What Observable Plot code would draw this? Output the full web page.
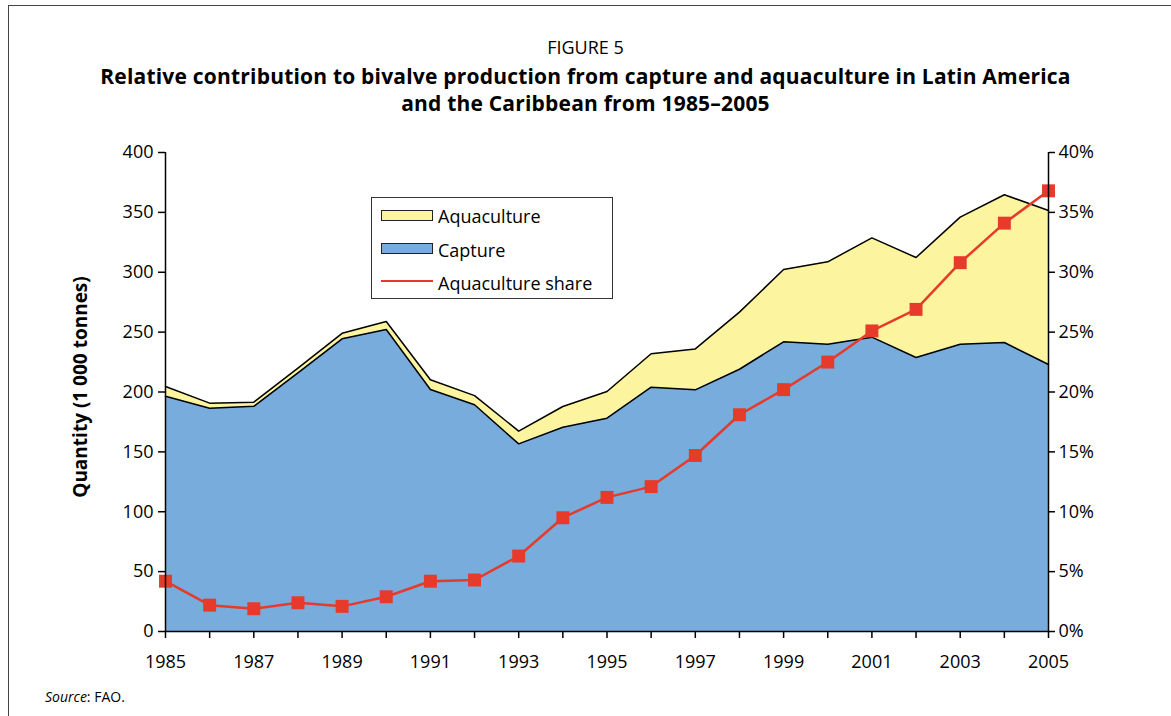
<!DOCTYPE html>
<html>
<head>
<meta charset="utf-8">
<script src="https://cdn.jsdelivr.net/npm/d3@7"></script>
<script src="https://cdn.jsdelivr.net/npm/@observablehq/plot@0.6"></script>
<style>
  html, body { margin: 0; padding: 0; background: #fff; width: 1171px; height: 716px; overflow: hidden; font-family: "Open Sans", sans-serif; }
  .abs { position: absolute; }
  #frame { left: 8px; top: 5px; width: 1300px; height: 900px; border-left: 1px solid #444; border-top: 1px solid #444; }
  .title { left: 0; width: 1171px; text-align: center; color: #000; }
  #legend { left: 371px; top: 197px; width: 240px; height: 100px; border: 1px solid #333; background: #fff; }
  .sw { position: absolute; left: 9px; width: 50px; height: 9px; border: 1px solid #222; }
  .lt { position: absolute; left: 66px; font-size: 18px; line-height: 20px; color: #000; white-space: nowrap; }
</style>
</head>
<body>
<div id="frame" class="abs"></div>
<div class="abs title" style="top:35px;font-size:18px;line-height:24px;">FIGURE 5</div>
<div class="abs title" style="top:63px;font-size:21px;line-height:27px;font-weight:bold;letter-spacing:0.2px;">Relative contribution to bivalve production from capture and aquaculture in Latin America<br>and the Caribbean from 1985–2005</div>
<div id="chart" class="abs" style="left:0;top:135px;"></div>
<div id="legend" class="abs">
  <div class="sw" style="top:12px;background:#fcf49f;"></div>
  <div class="lt" style="top:8px;">Aquaculture</div>
  <div class="sw" style="top:45px;background:#77acdc;"></div>
  <div class="lt" style="top:42px;">Capture</div>
  <div style="position:absolute;left:9px;top:82px;width:52px;height:2px;background:#e63a2a;"></div>
  <div class="lt" style="top:75px;">Aquaculture share</div>
</div>
<div class="abs" style="left:45px;top:687px;font-size:14px;color:#000;"><i>Source</i>: FAO.</div>
<script>
const years = [1985,1986,1987,1988,1989,1990,1991,1992,1993,1994,1995,1996,1997,1998,1999,2000,2001,2002,2003,2004,2005];
const capture = [196.5,186.5,188,216,244.4,252.2,202.1,189.3,156.7,170.6,178.1,204,201.8,219,241.9,239.9,245.8,228.8,239.9,241.3,223];
const aquaculture = [8.1,4.2,3.5,4,4.6,6.7,8.1,7.7,10.6,17.3,22.3,27.9,34.2,47.7,60.4,68.8,82.9,83.5,106.1,123.4,128.6];
const share = [4.2,2.2,1.9,2.4,2.1,2.9,4.2,4.3,6.3,9.5,11.2,12.1,14.7,18.1,20.2,22.5,25.1,26.9,30.8,34.1,36.8];
const yTicks = [0,50,100,150,200,250,300,350,400];
const shareTicks = [0,5,10,15,20,25,30,35,40];
const xLabelYears = [1985,1987,1989,1991,1993,1995,1997,1999,2001,2003,2005];
const yLabel = "Quantity (1 000 tonnes)";

// share axis (0–40 %) mapped onto the quantity scale (0–400)
const shareFactor = 400 / 40;

const data = years.map((year, i) => ({
  year, capture: capture[i], aqua: aquaculture[i], total: capture[i] + aquaculture[i], share: share[i]
}));

const chart = Plot.plot({
  width: 1171,
  height: 560,
  marginLeft: 165,
  marginRight: 123,
  marginTop: 17,
  marginBottom: 64,
  style: { fontFamily: "Open Sans", fontSize: "18px", color: "#000", background: "transparent", overflow: "visible" },
  x: { domain: [1985, 2005] },
  y: { domain: [0, 400] },
  marks: [
    Plot.areaY(data, { x: "year", y1: 0, y2: "capture", fill: "#77acdc", fillOpacity: 1 }),
    Plot.areaY(data, { x: "year", y1: "capture", y2: "total", fill: "#fcf49f", fillOpacity: 1 }),
    Plot.line(data, { x: "year", y: "capture", stroke: "#000", strokeWidth: 1.5 }),
    Plot.line(data, { x: "year", y: "total", stroke: "#000", strokeWidth: 1.5 }),
    Plot.line(data, { x: "year", y: d => d.share * shareFactor, stroke: "#e63a2a", strokeWidth: 2.5 }),
    Plot.dot(data, { x: "year", y: d => d.share * shareFactor, symbol: "square", r: 7.3, fill: "#e63a2a", stroke: "none" }),
    Plot.ruleY([0], { stroke: "#000", strokeWidth: 1.5 }),
    Plot.ruleX([1985, 2005], { y1: 0, y2: 400, stroke: "#000", strokeWidth: 1.5 }),
    Plot.axisY({ anchor: "left", ticks: yTicks, tickSize: 7, tickPadding: 5, strokeWidth: 1.5, label: null, fontSize: 18 }),
    Plot.axisY({ anchor: "right", ticks: shareTicks.map(t => t * shareFactor), tickSize: 6, tickPadding: 4, strokeWidth: 1.5, tickFormat: d => (d / shareFactor) + "%", label: null, fontSize: 18 }),
    Plot.axisX({ ticks: years, tickSize: 7, strokeWidth: 1.5, tickFormat: () => "", label: null }),
    Plot.axisX({ ticks: xLabelYears, tickSize: 0, tickPadding: 24, tickFormat: d => String(d), label: null, fontSize: 18 }),
    Plot.text([yLabel], { frameAnchor: "left", dx: -85, dy: -5, rotate: -90, textAnchor: "middle", fontWeight: "bold", fontSize: 19, fill: "#000" })
  ]
});
document.getElementById("chart").appendChild(chart);
</script>
</body>
</html>
